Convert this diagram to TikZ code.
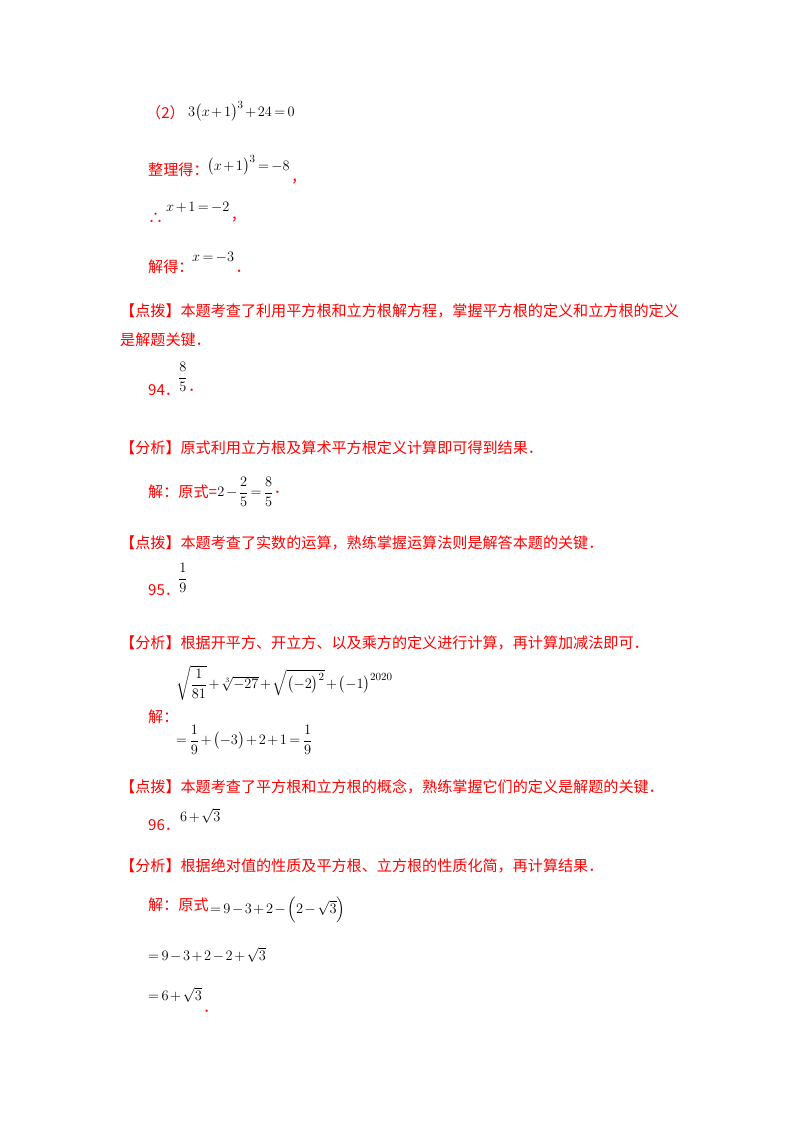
\documentclass[tikz,border=0pt]{standalone}
\usepackage{fontspec}
\usepackage{amsmath}
\newfontfamily\cjk{Noto Sans CJK SC}
\definecolor{rd}{RGB}{255,0,0}
\newcommand\tightmath{\medmuskip=2mu\relax\thickmuskip=3mu\relax}
\begin{document}
\begin{tikzpicture}[x=1pt,y=-1pt,
  t/.style={anchor=west,inner sep=0pt,font=\cjk\fontsize{15.1}{16}\selectfont,text=rd},
  m/.style={anchor=west,inner sep=0pt,font=\fontsize{15}{18}\selectfont\tightmath,text=black}]
\useasboundingbox (0,0) rectangle (800,1132);
\node[t] (a1) at (146,113) {（2）};
\node[m] (a2) at (188,111) {$3\bigl(x+1\bigr)^3+24=0$};
\node[t] (b1) at (148,170) {整理得：};
\node[m] (b2) at (207,165) {$\bigl(x+1\bigr)^3=-8$};
\node[t,anchor=south west] (b3) at ([xshift=1pt,yshift=-9pt]b2.south east) {，};
\node[t] (c1) at (148,218) {∴};
\node[m] (c2) at (166,207) {$x+1=-2$};
\node[t,anchor=south west] (c3) at ([xshift=1pt,yshift=-10pt]c2.south east) {，};
\node[t] (d1) at (148,267) {解得：};
\node[m] (d2) at (192,257) {$x=-3$};
\node[t,anchor=south west] (d3) at ([xshift=1pt,yshift=-10pt]d2.south east) {．};
\node[t] (e1) at (120,311) {【点拨】本题考查了利用平方根和立方根解方程，掌握平方根的定义和立方根的定义};
\node[t] (e2) at (120,340) {是解题关键．};
\node[t] (f1) at (148,390) {94．};
\node[m] (f2) at (178,377) {$\dfrac{8}{5}$};
\node[t,anchor=west] (f3) at (f2.east |- f1) {．};
\node[t] (g1) at (120,448) {【分析】原式利用立方根及算术平方根定义计算即可得到结果．};
\node[t] (h1) at (148,492) {解：原式=};
\node[m] (h2) at (h1.east) {$2-\dfrac{2}{5}=\dfrac{8}{5}$};
\node[t,anchor=west] (h3) at (h2.east |- h1) {．};
\node[t] (i1) at (120,543) {【点拨】本题考查了实数的运算，熟练掌握运算法则是解答本题的关键．};
\node[t] (j1) at (148,590) {95．};
\node[m] (j2) at (178,578) {$\dfrac{1}{9}$};
\node[t] (k1) at (120,643) {【分析】根据开平方、开立方、以及乘方的定义进行计算，再计算加减法即可．};
\node[m] (l1) at (176,683) {$\sqrt{\dfrac{1}{81}}+\sqrt[3]{-27}+\sqrt{\bigl(-2\bigr)^2}+\bigl(-1\bigr)^{2020}$};
\node[t] (l2) at (148,717) {解：};
\node[m] (l3) at (176,740) {$=\dfrac{1}{9}+\bigl(-3\bigr)+2+1=\dfrac{1}{9}$};
\node[t] (n1) at (120,787) {【点拨】本题考查了平方根和立方根的概念，熟练掌握它们的定义是解题的关键．};
\node[t] (o1) at (148,825) {96．};
\node[m] (o2) at (180,816) {$6+\sqrt{3}$};
\node[t] (p1) at (120,866) {【分析】根据绝对值的性质及平方根、立方根的性质化简，再计算结果．};
\node[t] (q1) at (148,905) {解：原式};
\node[m] (q2) at ([xshift=1pt,yshift=-5pt]q1.east) {$=9-3+2-\Bigl(2-\sqrt{3}\Bigr)$};
\node[m] (r1) at (148,955) {$=9-3+2-2+\sqrt{3}$};
\node[m] (s1) at (148,995) {$=6+\sqrt{3}$};
\node[t,anchor=south west] (s2) at ([xshift=1pt,yshift=-10pt]s1.south east) {．};
\end{tikzpicture}
\end{document}
